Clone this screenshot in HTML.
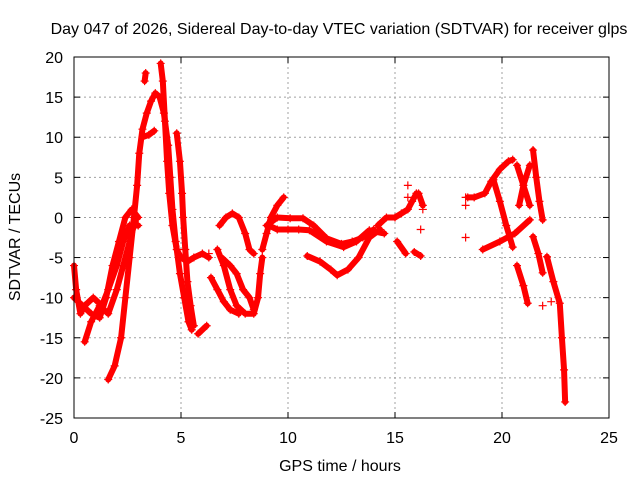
<!DOCTYPE html>
<html><head><meta charset="utf-8"><style>
body{margin:0;background:#fff}
svg{display:block;font-family:"Liberation Sans",sans-serif}
</style></head><body>
<svg id="chart" width="640" height="480" viewBox="0 0 640 480">
<text x="339" y="34" text-anchor="middle" font-size="16">Day 047 of 2026, Sidereal Day-to-day VTEC variation (SDTVAR) for receiver glps</text>
<text x="340" y="471" text-anchor="middle" font-size="16">GPS time / hours</text>
<text transform="translate(20,237) rotate(-90)" text-anchor="middle" font-size="16">SDTVAR / TECUs</text>
<g id="grid"></g><g id="axes"></g><g id="marks"></g>
<rect x="74" y="57" width="535" height="361" fill="none" stroke="#000" stroke-width="1"/>
</svg>
<script>
const xTicks=[0,5,10,15,20,25];
const yTicks=[-25,-20,-15,-10,-5,0,5,10,15,20];
const trackA=[[1.6,-20.2],[1.9,-18.5],[2.2,-15],[2.4,-10],[2.6,-5],[2.8,0],[2.95,4],[3.05,8],[3.2,11],[3.4,13],[3.6,14.5],[3.8,15.5],[4.0,15],[4.2,13],[4.4,9],[4.5,5],[4.6,1],[4.75,-3],[4.95,-7],[5.15,-10],[5.35,-13],[5.5,-14]];
const trackB=[[4.05,19.2],[4.15,17],[4.25,12],[4.35,7],[4.45,3],[4.6,-1],[4.8,-4],[5.0,-5],[5.3,-5.5],[5.6,-5],[6.0,-4.5],[6.3,-5]];
const trackC=[[4.8,10.5],[4.95,7],[5.05,3],[5.1,0],[5.2,-4],[5.3,-8],[5.45,-11],[5.6,-13.5]];
const trackD=[[3.2,10],[3.5,10.3],[3.75,10.8]];
const trackE=[[3.3,17],[3.35,18]];
const trackF=[[0,-6],[0.1,-9],[0.3,-12],[0.5,-11],[0.9,-10],[1.3,-11],[1.6,-9],[2.0,-6],[2.3,-3],[2.6,-1],[3.0,-1]];
const trackG=[[0.5,-15.5],[0.8,-13],[1.2,-11],[1.6,-12],[2.0,-9],[2.3,-6],[2.6,-3],[2.9,0]];
const trackH=[[0,-10],[0.4,-11],[0.8,-12],[1.2,-12.5],[1.5,-10],[1.8,-6],[2.1,-3],[2.4,0],[2.7,1],[3.0,0]];
const trackI=[[5.8,-14.5],[6.2,-13.5]];
const trackJ=[[6.8,-1],[7.1,0],[7.4,0.5],[7.7,0],[8.0,-2],[8.2,-4],[8.4,-4.5]];
const trackK=[[6.7,-4],[7.0,-6],[7.3,-9],[7.6,-11],[8.0,-12],[8.4,-12],[8.6,-10],[8.7,-7],[8.8,-5]];
const trackL=[[6.9,-5],[7.3,-6],[7.6,-7],[7.9,-9],[8.2,-10],[8.4,-11.5]];
const trackM=[[6.4,-7.5],[6.7,-9],[7.0,-10.5],[7.3,-11.5],[7.7,-12]];
const trackN=[[8.8,-4],[9.0,-2],[9.2,0],[9.5,1.5],[9.8,2.5]];
const trackO=[[9.0,-1],[9.5,0],[10.1,-0.1],[10.7,-0.1],[11.2,-1],[11.8,-2.6],[12.5,-3.3],[13,-3],[13.5,-2.5],[14,-1.5]];
const trackP=[[9.1,-1],[9.5,-1.5],[10,-1.5],[10.5,-1.5],[11,-1.6],[11.8,-3],[12.6,-3.7],[13.2,-3],[13.8,-1.6],[14.5,-2]];
const trackQ=[[10.9,-4.8],[11.5,-5.5],[12,-6.5],[12.3,-7.2],[12.8,-6.5],[13.3,-5],[13.8,-2.5],[14.3,-1.5]];
const trackR=[[14.2,-1],[14.6,0],[15.0,0],[15.3,0.5],[15.6,1],[15.8,2],[16.0,3]];
const trackS=[[16.1,3],[16.3,1.5]];
const trackT=[[15.1,-3],[15.5,-4.5]];
const trackU=[[15.9,-4.3],[16.2,-4.8]];
const trackV=[[18.4,2.5],[18.7,2.5],[19.2,3],[19.5,4.5],[19.9,6],[20.3,7],[20.5,7.2]];
const trackW=[[19.6,4.7],[19.9,2],[20.2,-1],[20.5,-3.7]];
const trackX=[[20.7,-6],[21.0,-8.5],[21.2,-10.7]];
const trackY=[[21.3,-0.3],[20.6,-2],[19.9,-3],[19.1,-4]];
const trackZ=[[20.7,6.5],[21.0,4],[21.3,1.5]];
const trackAA=[[21.3,6.5],[21.0,4],[20.8,1.5]];
const trackAB=[[21.45,8.4],[21.6,5],[21.75,2],[21.9,-0.3]];
const trackAC=[[21.45,-2.4],[21.7,-4.5],[21.9,-6.9]];
const trackAD=[[22.1,-4.9],[22.4,-8],[22.7,-10.7],[22.8,-15],[22.9,-19],[22.95,-23]];
const crossPts=[[15.6,4],[15.6,2.5],[16.3,1],[16.2,-1.5],[18.3,2.5],[18.3,1.5],[18.3,-2.5],[21.9,-11],[22.3,-10.5],[4.9,-4],[6.3,-4.5]];
const tracks=[trackA,trackB,trackC,trackD,trackE,trackF,trackG,trackH,trackI,trackJ,trackK,trackL,trackM,trackN,trackO,trackP,trackQ,trackR,trackS,trackT,trackU,trackV,trackW,trackX,trackY,trackZ,trackAA,trackAB,trackAC,trackAD];

const X0=74,X1=609,Y0=418,Y1=57;
function sx(t){return X0+(t-0)/25*(X1-X0);}
function sy(v){return Y0-(v+25)/45*(Y0-Y1);}
const NS='http://www.w3.org/2000/svg';
function mk(tag,attrs,parent){const e=document.createElementNS(NS,tag);for(const k in attrs)e.setAttribute(k,attrs[k]);parent.appendChild(e);return e;}
const grid=document.getElementById('grid'),axes=document.getElementById('axes'),marks=document.getElementById('marks');
xTicks.forEach(t=>{
  const x=sx(t);
  if(t>0&&t<25){const g=mk('line',{x1:x,x2:x,y1:Y1,y2:Y0,stroke:'#a0a0a0','stroke-dasharray':'2,3'},grid);
  
  }
  mk('line',{x1:x,x2:x,y1:Y0,y2:Y0-6,stroke:'#000'},axes);
  mk('line',{x1:x,x2:x,y1:Y1,y2:Y1+6,stroke:'#000'},axes);
  const tx=mk('text',{x:x,y:Y0+25,'text-anchor':'middle','font-size':16},axes);
  tx.textContent=t;
  
  
});
yTicks.forEach(v=>{
  const y=sy(v);
  if(v>-25&&v<20){const g=mk('line',{x1:X0,x2:X1,y1:y,y2:y,stroke:'#a0a0a0','stroke-dasharray':'2,3'},grid);
  
  }
  mk('line',{x1:X0,x2:X0+6,y1:y,y2:y,stroke:'#000'},axes);
  mk('line',{x1:X1,x2:X1-6,y1:y,y2:y,stroke:'#000'},axes);
  const tx=mk('text',{x:X0-11,y:y+6,'text-anchor':'end','font-size':16},axes);
  tx.textContent=v;
  
  
});
tracks.forEach(tr=>{
  const p=mk('polyline',{points:tr.map(d=>sx(d[0])+','+sy(d[1])).join(' '),fill:'none',stroke:'#ff0000','stroke-width':6,'stroke-linejoin':'round','stroke-linecap':'round'},marks);
  
  
  tr.forEach(d=>{
    const c=mk('path',{d:`M${sx(d[0])-4},${sy(d[1])}h8M${sx(d[0])},${sy(d[1])-4}v8`,stroke:'#ff0000','stroke-width':1.2},marks);
    
    
  });
});
crossPts.forEach(d=>{
  const c=mk('path',{d:`M${sx(d[0])-4},${sy(d[1])}h8M${sx(d[0])},${sy(d[1])-4}v8`,stroke:'#ff0000','stroke-width':1.2},marks);
  
  
});
</script>
</body></html>
